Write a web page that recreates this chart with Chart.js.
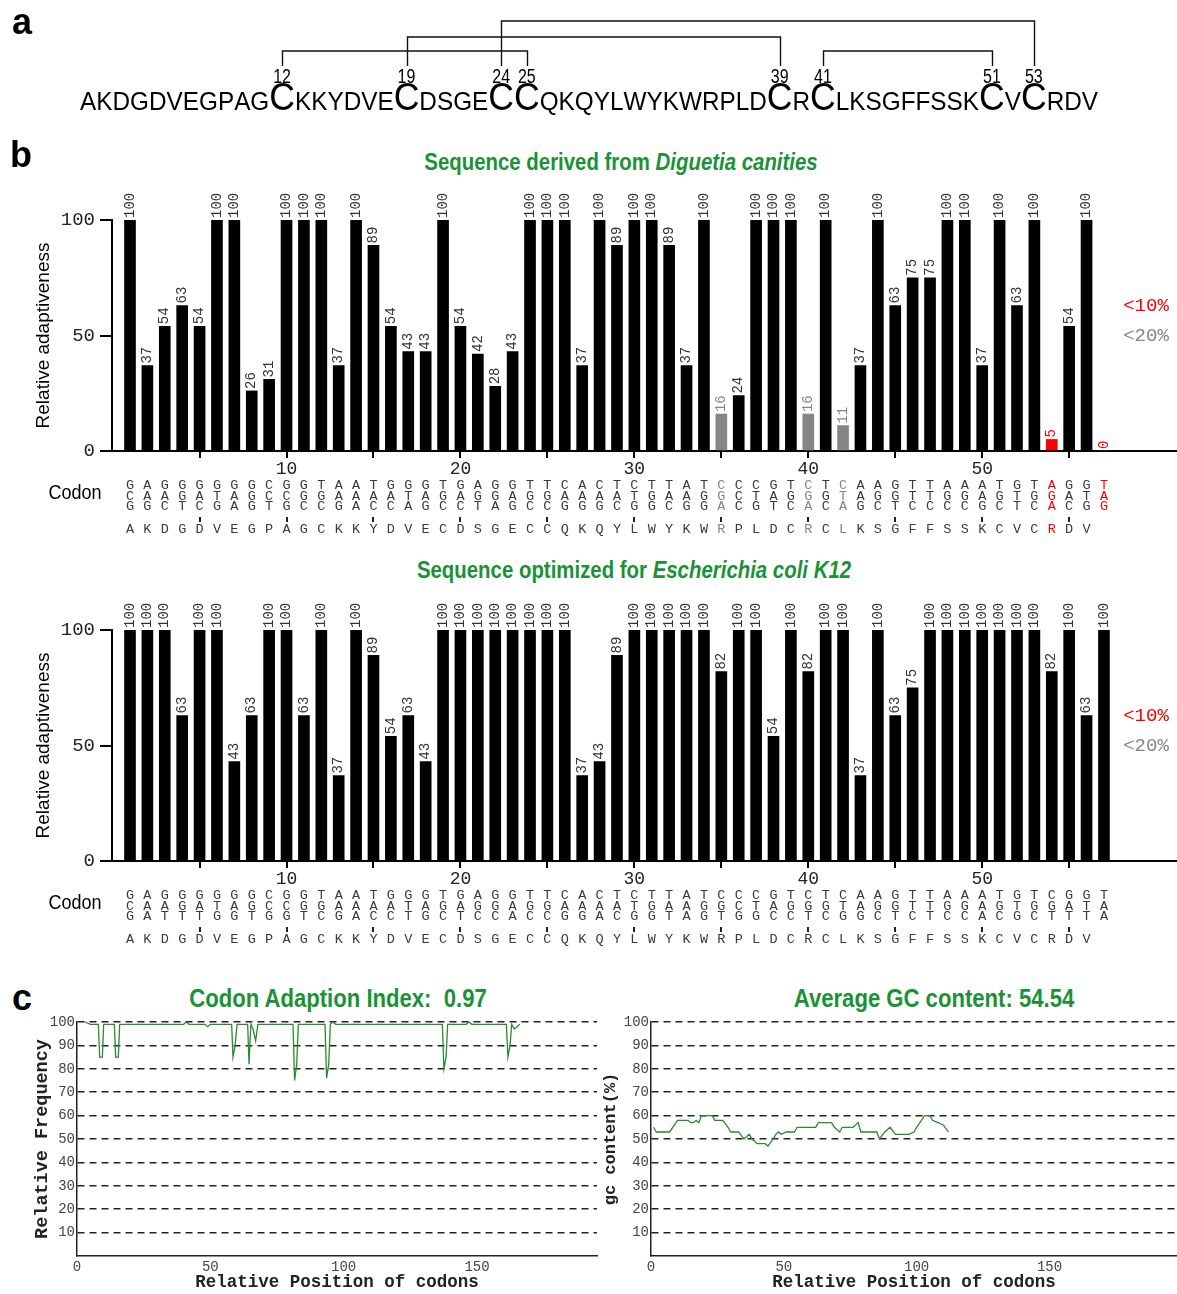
<!DOCTYPE html>
<html>
<head>
<meta charset="utf-8">
<script src="https://cdn.jsdelivr.net/npm/chart.js@4.4.1/dist/chart.umd.min.js"></script>
<style>
  html, body { margin: 0; padding: 0; background: #fff; }
  #page { position: relative; width: 1177px; height: 1294px; overflow: hidden; }
  canvas, .txt { position: absolute; }
  .panel { font: bold 36px "Liberation Sans", Arial, sans-serif; line-height: 36px; color: #000; }
  .title { font: bold 24px "Liberation Sans", Arial, sans-serif; line-height: 1; color: #1a9236;
           white-space: nowrap; transform: translate(-50%, -50%) scaleX(0.85); }
  .title.big { font-size: 26px; }
</style>
</head>
<body>
<div id="page">
  <canvas id="seq" width="1177" height="125" style="left:0;top:0"></canvas>
  <div class="txt panel" style="left:12px;top:4px">a</div>
  <div class="txt panel" style="left:10px;top:137px">b</div>
  <div class="txt panel" style="left:12px;top:980px">c</div>

  <div class="txt title" style="left:621px;top:162px">Sequence derived from <i>Diguetia canities</i></div>
  <canvas id="nativeChart" width="1177" height="360" style="left:0;top:180px"></canvas>

  <div class="txt title" style="left:634px;top:570px">Sequence optimized for <i>Escherichia coli K12</i></div>
  <canvas id="optChart" width="1177" height="360" style="left:0;top:590px"></canvas>

  <div class="txt title big" style="left:338px;top:998px">Codon Adaption Index:&nbsp; 0.97</div>
  <div class="txt title big" style="left:934px;top:998px">Average GC content: 54.54</div>
  <canvas id="caiChart" width="600" height="284" style="left:0;top:1010px"></canvas>
  <canvas id="gcChart" width="587" height="284" style="left:590px;top:1010px"></canvas>
</div>

<script>
// ---- data ----
const sequence = 'AKDGDVEGPAGCKKYDVECDSGECCQKQYLWYKWRPLDCRCLKSGFFSSKCVCRDV';
const bonds = [[12, 25], [19, 39], [24, 53], [41, 51]];

const residues = sequence.split('').concat(['']); // last column = stop codon

const nativeCodons = [
  'GCG','AAG','GAC','GGT','GAC','GTG','GAA','GGG','CCT','GCG',
  'GGC','TGC','AAG','AAA','TAC','GAC','GTA','GAG','TGC','GAC',
  'AGT','GGA','GAG','TGC','TGC','CAG','AAG','CAG','TAC','CTG',
  'TGG','TAC','AAG','TGG','CGA','CCC','CTG','GAT','TGC','CGA',
  'TGC','CTA','AAG','AGC','GGT','TTC','TTC','AGC','AGC','AAG',
  'TGC','GTT','TGC','AGA','GAC','GTG','TAG'
];
const nativeValues = [
  100, 37, 54, 63, 54, 100, 100, 26, 31, 100,
  100, 100, 37, 100, 89, 54, 43, 43, 100, 54,
  42, 28, 43, 100, 100, 100, 37, 100, 89, 100,
  100, 89, 37, 100, 16, 24, 100, 100, 100, 16,
  100, 11, 37, 100, 63, 75, 75, 100, 100, 37,
  100, 63, 100, 5, 54, 100, 0
];

const optCodons = [
  'GCG','AAA','GAT','GGT','GAT','GTG','GAG','GGT','CCG','GCG',
  'GGT','TGC','AAG','AAA','TAC','GAC','GTT','GAG','TGC','GAT',
  'AGC','GGC','GAA','TGC','TGC','CAG','AAG','CAA','TAC','CTG',
  'TGG','TAT','AAA','TGG','CGT','CCG','CTG','GAC','TGC','CGT',
  'TGC','CTG','AAG','AGC','GGT','TTC','TTT','AGC','AGC','AAA',
  'TGC','GTG','TGC','CGT','GAT','GTT','TAA'
];
const optValues = [
  100, 100, 100, 63, 100, 100, 43, 63, 100, 100,
  63, 100, 37, 100, 89, 54, 63, 43, 100, 100,
  100, 100, 100, 100, 100, 100, 37, 43, 89, 100,
  100, 100, 100, 100, 82, 100, 100, 54, 100, 82,
  100, 100, 37, 100, 63, 75, 100, 100, 100, 100,
  100, 100, 100, 82, 100, 63, 100
];

const codonTicks = [5, 10, 15, 20, 25, 30, 35, 40, 45, 50, 55];
const adaptTicks = [0, 50, 100];

// codon adaptation index along the optimized sequence
const caiPos = [3, 5, 8, 8.5, 9.5, 10, 14, 14.5, 15.5, 16, 40, 41, 42, 48, 49, 50,
  58, 58.5, 59.3, 60, 64, 64.5, 65.2, 66, 67, 67.8, 81, 81.6, 82.4, 83,
  93, 93.6, 94.4, 95, 96, 97, 137, 137.6, 138.4, 139, 146, 147, 148,
  161, 161.6, 162.4, 163, 164, 165, 166];
const caiVal = [100, 99, 99, 85, 85, 99, 99, 85, 85, 99, 99, 100, 99, 99, 98, 99,
  99, 85, 90, 99, 99, 82, 99, 97, 92, 99, 99, 75, 82, 99,
  99, 76, 82, 99, 100, 99, 99, 80, 85, 99, 99, 100, 99,
  99, 85, 90, 99, 97, 98, 99];

// GC content window
const gcPos = [1, 2, 7, 10, 14, 15, 16, 17, 18, 19, 23, 24, 27, 29, 30, 33, 35, 37, 38, 40,
  43, 44, 46, 47, 48, 49, 51, 54, 55, 62, 63, 68, 69, 71, 72, 76, 78, 79, 85, 86,
  88, 90, 92, 97, 99, 100, 103, 105, 106, 108, 110, 112];
const gcVal = [55, 53, 53, 58, 58, 57, 57, 58, 57, 60, 60, 58, 58, 55, 53, 53, 50, 52, 50, 48,
  48, 47, 50, 52, 53, 52, 53, 53, 55, 55, 57, 57, 55, 53, 55, 55, 57, 53, 53, 50,
  53, 55, 52, 52, 53, 55, 60, 60, 58, 57, 56, 53];

const freqTicks = [10, 20, 30, 40, 50, 60, 70, 80, 90, 100];
const posTicks = [0, 50, 100, 150];

// ---- style ----
const MONO = '"Liberation Mono", "DejaVu Sans Mono", monospace';
const SANS = '"Liberation Sans", Arial, sans-serif';
const GRAY = '#858585';
const RED = '#ff0000';
const GREEN = '#2a8a2e';
Chart.defaults.font.family = MONO;
Chart.defaults.color = '#222';

function valueColor(v) {
  if (v < 10) return RED;
  if (v < 20) return GRAY;
  return null;
}

// ---- panel a: sequence with disulfide bonds ----
function drawSequence() {
  const ctx = document.getElementById('seq').getContext('2d');
  const small = '26px ' + SANS, big = '38px ' + SANS;
  const widths = sequence.split('').map(ch => {
    ctx.font = ch === 'C' ? big : small;
    return ctx.measureText(ch).width;
  });
  const total = widths.reduce((a, b) => a + b, 0);
  const sx = (1098 - 80) / total;
  const centers = [];
  let x = 80;
  ctx.fillStyle = '#000';
  sequence.split('').forEach((ch, i) => {
    ctx.font = ch === 'C' ? big : small;
    ctx.save();
    ctx.translate(x, 110);
    ctx.scale(sx, 1);
    ctx.fillText(ch, 0, 0);
    ctx.restore();
    centers.push(x + widths[i] * sx / 2);
    x += widths[i] * sx;
  });

  ctx.font = '20px ' + SANS;
  ctx.textAlign = 'center';
  sequence.split('').forEach((ch, i) => {
    if (ch !== 'C') return;
    ctx.save();
    ctx.translate(centers[i], 83);
    ctx.scale(0.8, 1);
    ctx.fillText(String(i + 1), 0, 0);
    ctx.restore();
  });

  const levels = [51, 37, 21, 51];
  ctx.strokeStyle = '#111';
  ctx.lineWidth = 1.4;
  bonds.forEach(([a, b], k) => {
    const xa = Math.round(centers[a - 1]) + 0.5, xb = Math.round(centers[b - 1]) + 0.5;
    ctx.beginPath();
    ctx.moveTo(xa, 66);
    ctx.lineTo(xa, levels[k]);
    ctx.lineTo(xb, levels[k]);
    ctx.lineTo(xb, 66);
    ctx.stroke();
  });
}
drawSequence();

// ---- panel b: relative adaptiveness bars ----
const barLabels = {
  id: 'barLabels',
  afterDatasetsDraw(chart) {
    const ctx = chart.ctx;
    const values = chart.data.datasets[0].data;
    ctx.save();
    ctx.font = '14px ' + MONO;
    ctx.textAlign = 'left';
    ctx.textBaseline = 'middle';
    chart.getDatasetMeta(0).data.forEach((bar, i) => {
      const v = values[i].y;
      ctx.fillStyle = valueColor(v) || '#333';
      ctx.save();
      ctx.translate(bar.x, bar.y - 2);
      ctx.rotate(-Math.PI / 2);
      ctx.fillText(String(v), 0, 0);
      ctx.restore();
    });
    ctx.restore();
  }
};

const codonRows = {
  id: 'codonRows',
  afterDraw(chart, args, opts) {
    const {ctx, chartArea} = chart;
    const xs = chart.scales.x, ys = chart.scales.y;
    const base = chartArea.bottom;
    const rows = [34.5, 45, 55.5];
    ctx.save();
    ctx.textAlign = 'center';
    ctx.textBaseline = 'middle';
    ctx.font = '13.5px ' + MONO;
    opts.codons.forEach((codon, i) => {
      const x = xs.getPixelForValue(i + 1);
      ctx.fillStyle = valueColor(opts.values[i]) || '#3a3a3a';
      for (let r = 0; r < 3; r++) ctx.fillText(codon[r], x, base + rows[r]);
      ctx.fillText(residues[i], x, base + 78);
      if ((i + 1) % 5 === 0) {
        ctx.fillStyle = '#222';
        ctx.fillRect(Math.round(x) - 1, base + 66, 2, 5);
      }
    });
    ctx.fillStyle = '#000';
    ctx.font = '20px ' + SANS;
    ctx.save();
    ctx.translate(75, base + 42);
    ctx.scale(0.9, 1);
    ctx.fillText('Codon', 0, 0);
    ctx.restore();
    ctx.font = '19px ' + MONO;
    ctx.fillStyle = RED;
    ctx.fillText('<10%', 1146, ys.getPixelForValue(63));
    ctx.fillStyle = GRAY;
    ctx.fillText('<20%', 1146, ys.getPixelForValue(50));
    ctx.restore();
  }
};

function adaptivenessChart(id, values, codons) {
  return new Chart(document.getElementById(id), {
    type: 'bar',
    data: {
      datasets: [{
        data: values.map((v, i) => ({x: i + 1, y: v})),
        backgroundColor: values.map(v => valueColor(v) || '#000'),
        barThickness: 11
      }]
    },
    options: {
      responsive: false,
      animation: false,
      devicePixelRatio: 1,
      layout: {padding: {top: 40, left: 0, right: 0, bottom: 0}},
      plugins: {
        legend: {display: false},
        tooltip: {enabled: false},
        codonRows: {codons: codons, values: values}
      },
      scales: {
        x: {
          type: 'linear',
          offset: false,
          min: -0.035,
          max: 61.2,
          afterBuildTicks: s => { s.ticks = codonTicks.map(v => ({value: v})); },
          afterFit: s => { s.height = 89; },
          grid: {drawOnChartArea: false, drawTicks: true, tickLength: 7, color: '#000', lineWidth: 2, offset: false},
          border: {color: '#000', width: 2},
          ticks: {
            autoSkip: false, maxRotation: 0, padding: 0,
            font: {size: 18}, color: '#222',
            callback: v => (v % 10 === 0 ? String(v) : '')
          }
        },
        y: {
          min: 0,
          max: 100,
          afterBuildTicks: s => { s.ticks = adaptTicks.map(v => ({value: v})); },
          afterFit: s => { s.width = 112; },
          grid: {drawOnChartArea: false, drawTicks: true, tickLength: 12, color: '#000', lineWidth: 2},
          border: {color: '#000', width: 2},
          ticks: {padding: 5, font: {size: 19}, color: '#222'},
          title: {
            display: true, text: 'Relative adaptiveness', color: '#000',
            font: {family: SANS, size: 19}, padding: {top: 32, bottom: 0}
          }
        }
      }
    },
    plugins: [barLabels, codonRows]
  });
}

adaptivenessChart('nativeChart', nativeValues, nativeCodons);
adaptivenessChart('optChart', optValues, optCodons);

// ---- panel c: CAI and GC profiles ----
function profileChart(id, xs, ys, opts) {
  return new Chart(document.getElementById(id), {
    type: 'line',
    data: {
      datasets: [{
        data: xs.map((x, i) => ({x: x, y: ys[i]})),
        borderColor: GREEN,
        borderWidth: 1.3,
        pointRadius: 0,
        tension: 0,
        clip: false
      }]
    },
    options: {
      responsive: false,
      animation: false,
      devicePixelRatio: 1,
      layout: {padding: {top: 12, right: opts.right, left: 0, bottom: 0}},
      plugins: {legend: {display: false}, tooltip: {enabled: false}},
      scales: {
        x: {
          type: 'linear',
          min: 0,
          max: opts.xmax,
          afterBuildTicks: s => { s.ticks = posTicks.map(v => ({value: v})); },
          afterFit: s => { s.height = 38; },
          grid: {display: false, drawTicks: false, tickLength: 0},
          border: {color: '#222', width: 1.5},
          ticks: {padding: 3, font: {size: 14}, color: '#444', maxRotation: 0},
          title: {
            display: true, text: 'Relative Position of codons', color: '#222',
            font: {size: 17.5, weight: 'bold'}, padding: {top: 0, bottom: 1}
          }
        },
        y: {
          min: 0,
          max: 100,
          afterBuildTicks: s => { s.ticks = freqTicks.map(v => ({value: v})); },
          afterFit: s => { s.width = opts.axisWidth; },
          grid: {color: '#222', lineWidth: 1.5, drawTicks: false, tickLength: 0},
          border: {color: '#222', width: 1.5, dash: [7, 5]},
          ticks: {padding: 2, font: {size: 14}, color: '#444'},
          title: {
            display: true, text: opts.ytitle, color: '#222',
            font: {size: opts.ysize, weight: 'bold'}, padding: {top: opts.tpad, bottom: 0}
          }
        }
      }
    }
  });
}

profileChart('caiChart', caiPos, caiVal, {xmax: 195, right: 3, axisWidth: 77, ytitle: 'Relative Frequency', ysize: 18.5, tpad: 31});
profileChart('gcChart', gcPos, gcVal, {xmax: 198, right: 0, axisWidth: 61, ytitle: 'gc content(%)', ysize: 17, tpad: 11});
</script>
</body>
</html>
